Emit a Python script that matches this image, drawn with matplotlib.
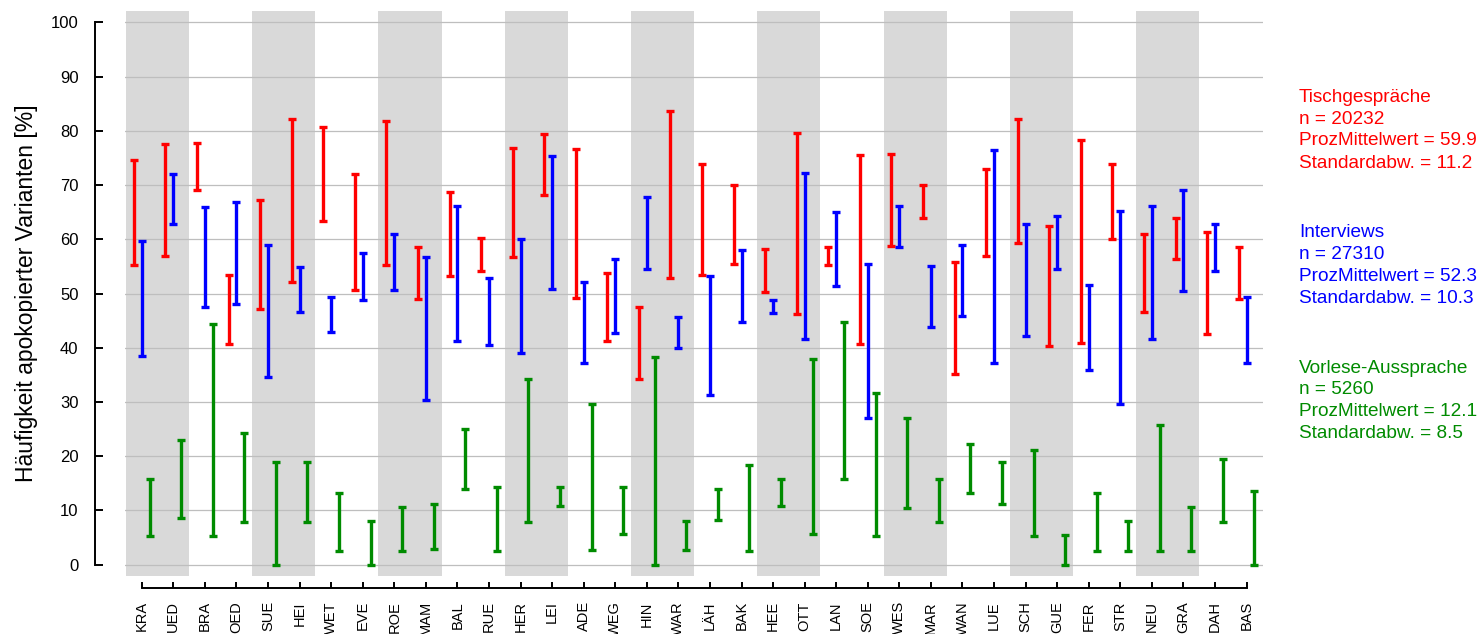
import numpy as np
import matplotlib
matplotlib.use("Agg")
import matplotlib.pyplot as plt

plt.rcParams['font.family'] = ['Liberation Sans', 'DejaVu Sans']

orte = ["KRA", "UED", "BRA", "OED", "SUE", "HEI", "WET", "EVE", "ROE", "MAM",
        "BAL", "RUE", "HER", "LEI", "ADE", "WEG", "HIN", "WAR", "LÄH", "BAK",
        "HEE", "OTT", "LAN", "SOE", "WES", "MAR", "WAN", "LUE", "SCH", "GUE",
        "FER", "STR", "NEU", "GRA", "DAH", "BAS"]

# Tischgespraeche (rot): obere / untere Grenze
tisch_hi = [74.6, 77.5, 77.7, 53.5, 67.2, 82.2, 80.7, 72.0, 81.8, 58.6,
            68.7, 60.2, 76.8, 79.4, 76.7, 53.8, 47.5, 83.6, 73.9, 70.1,
            58.2, 79.6, 58.6, 75.5, 75.7, 70.1, 55.8, 72.9, 82.2, 62.4,
            78.4, 73.8, 61.0, 63.9, 61.3, 58.6]
tisch_lo = [55.2, 57.0, 69.1, 40.7, 47.1, 52.2, 63.3, 50.7, 55.2, 48.9,
            53.3, 54.1, 56.8, 68.2, 49.2, 41.2, 34.3, 52.9, 53.5, 55.5,
            50.3, 46.2, 55.3, 40.6, 58.7, 63.9, 35.2, 57.0, 59.3, 40.4,
            40.9, 60.0, 46.5, 56.4, 42.6, 48.9]

# Interviews (blau)
inter_hi = [59.6, 72.1, 66.0, 66.9, 59.0, 54.9, 49.4, 57.5, 61.0, 56.7,
            66.1, 52.9, 60.1, 75.3, 52.2, 56.4, 67.8, 45.7, 53.2, 58.1,
            48.8, 72.3, 65.1, 55.4, 66.1, 55.1, 59.0, 76.5, 62.8, 64.3,
            51.5, 65.2, 66.2, 69.1, 62.8, 49.4]
inter_lo = [38.4, 62.9, 47.5, 48.0, 34.6, 46.5, 42.9, 48.8, 50.6, 30.3,
            41.3, 40.5, 39.1, 50.9, 37.2, 42.8, 54.6, 40.0, 31.2, 44.7,
            46.4, 41.7, 51.4, 27.1, 58.6, 43.8, 45.9, 37.1, 42.2, 54.5,
            35.8, 29.7, 41.6, 50.5, 54.2, 37.2]

# Vorlese-Aussprache (gruen)
vorl_hi = [15.8, 22.9, 44.4, 24.3, 19.0, 19.0, 13.2, 8.1, 10.6, 11.1,
           25.1, 14.3, 34.2, 14.3, 29.7, 14.3, 38.2, 8.1, 13.9, 18.4,
           15.8, 37.9, 44.7, 31.7, 27.1, 15.8, 22.2, 19.0, 21.2, 5.4,
           13.2, 8.0, 25.7, 10.6, 19.4, 13.5]
vorl_lo = [5.3, 8.6, 5.3, 7.9, 0.0, 7.9, 2.6, 0.0, 2.6, 2.8,
           13.9, 2.6, 7.9, 10.8, 2.7, 5.7, 0.0, 2.7, 8.3, 2.6,
           10.8, 5.7, 15.8, 5.2, 10.5, 7.9, 13.2, 11.2, 5.2, 0.0,
           2.6, 2.6, 2.6, 2.6, 7.9, 0.0]

legenden = [
    ("Tischgespräche", "20232", "59.9", "11.2"),
    ("Interviews", "27310", "52.3", "10.3"),
    ("Vorlese-Aussprache", "5260", "12.1", "8.5"),
]

rot = "#ff0000"
blau = "#0000ff"
gruen = "#008b00"

fig = plt.figure(figsize=(14.84, 6.34), dpi=100)
ax = fig.add_axes([125 / 1484, 1 - 576 / 634, (1263 - 125) / 1484, (576 - 11) / 634])

x = np.arange(len(orte))

# graue Streifen fuer jedes zweite Paar
for start in range(0, len(orte), 4):
    ax.axvspan(start - 0.5, start + 1.5, color="#d9d9d9", lw=0, zorder=0)

for g in range(0, 101, 10):
    ax.axhline(g, color="#bebebe", lw=0.9, zorder=1)


def balken(xpos, hi, lo, farbe):
    hi = np.array(hi)
    lo = np.array(lo)
    mitte = (hi + lo) / 2
    halb = (hi - lo) / 2
    ax.errorbar(xpos, mitte, yerr=halb, fmt="none", ecolor=farbe,
                elinewidth=2.4, capsize=3.2, capthick=2.4, zorder=3)


balken(x - 0.25, tisch_hi, tisch_lo, rot)
balken(x, inter_hi, inter_lo, blau)
balken(x + 0.25, vorl_hi, vorl_lo, gruen)

ax.set_xlim(-0.53, 35.52)
ax.set_ylim(-2.1, 102.1)

for s in ["top", "right"]:
    ax.spines[s].set_visible(False)
ax.spines["left"].set_position(("outward", 21.5))
ax.spines["left"].set_bounds(0, 100)
ax.spines["bottom"].set_position(("outward", 8.6))
ax.spines["bottom"].set_bounds(0, len(orte) - 1)
for s in ["left", "bottom"]:
    ax.spines[s].set_linewidth(1.4)

ax.set_yticks(range(0, 101, 10))
ax.set_xticks(x)
ax.set_xticklabels(orte, rotation=90, fontsize=10.5)
ax.tick_params(axis="y", direction="in", length=6, width=1.4, labelsize=12, pad=12)
ax.tick_params(axis="x", direction="in", length=4.5, width=1.4, pad=9.5)

ax.set_ylabel("Häufigkeit apokopierter Varianten [%]", fontsize=16.5, labelpad=9)

farben = [rot, blau, gruen]
y0 = 97
for i, (name, n, mw, sd) in enumerate(legenden):
    zeilen = [name, "n = " + n, "ProzMittelwert = " + mw, "Standardabw. = " + sd]
    for j, z in enumerate(zeilen):
        ypix = y0 + i * 135.5 + j * 22
        fig.text(1299 / 1484, 1 - ypix / 634, z, color=farben[i], fontsize=13.7,
                 ha="left", va="center")

fig.savefig("out.png", dpi=100)
